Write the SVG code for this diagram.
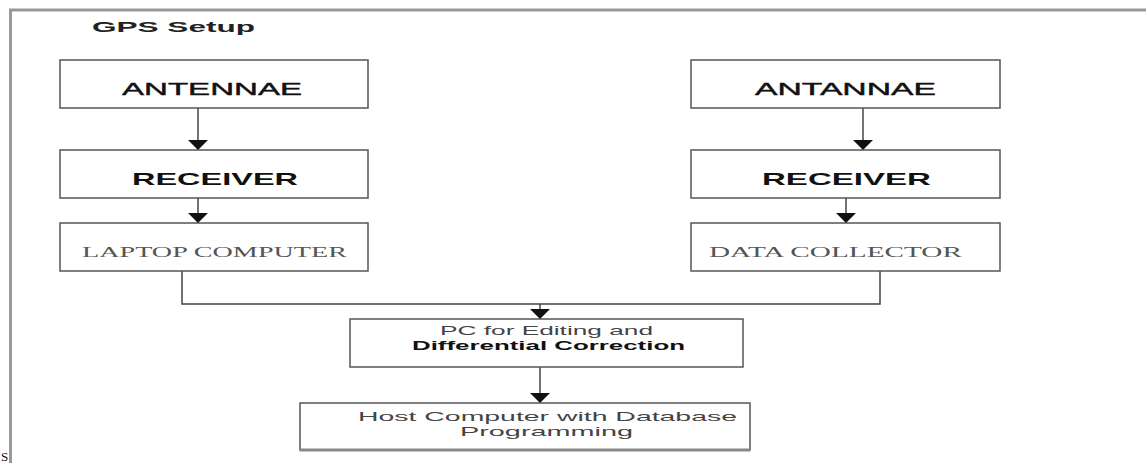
<svg xmlns="http://www.w3.org/2000/svg" width="1146" height="463" viewBox="0 0 1146 463">
<defs>
<style>
.box{fill:#fff;stroke:#555;stroke-width:1.5}
.conn{fill:none;stroke:#444;stroke-width:1.5}
.frame{stroke:#999;stroke-width:3;fill:none}
.h{font-family:"Liberation Sans",Arial,sans-serif;font-size:17px;fill:#111;stroke:#111;stroke-width:0.4}
.hb{font-family:"Liberation Sans",Arial,sans-serif;font-size:17px;font-weight:bold;fill:#111}
.serif{font-family:"Liberation Serif","Times New Roman",serif;font-size:15px;fill:#555}
.s{font-family:"Liberation Sans",Arial,sans-serif;font-size:13px;fill:#444}
.sb{font-family:"Liberation Sans",Arial,sans-serif;font-size:13px;font-weight:bold;fill:#111}
</style>
<marker id="arrd" viewBox="0 0 20 10" refX="10" refY="10" markerWidth="20" markerHeight="10" markerUnits="userSpaceOnUse" orient="0">
<path d="M0,0 L20,0 L10,10 z" fill="#111"/>
</marker>
</defs>
<rect width="1146" height="463" fill="#fff"/>
<g id="frame">
<line class="frame" x1="9" y1="10" x2="1146" y2="10"/>
<line class="frame" x1="10.5" y1="9" x2="10.5" y2="463"/>
<text x="1" y="461" font-family="Liberation Serif, serif" font-size="13" fill="#111">S</text>
</g>
<text id="title" x="92" y="32" font-family="Liberation Sans, Arial, sans-serif" font-size="15" font-weight="bold" fill="#222" textLength="163" lengthAdjust="spacingAndGlyphs">GPS Setup</text>
<g id="connectors">
<line class="conn" x1="198" y1="108" x2="198" y2="150" marker-end="url(#arrd)"/>
<line class="conn" x1="198" y1="198" x2="198" y2="223" marker-end="url(#arrd)"/>
<line class="conn" x1="863" y1="108" x2="863" y2="150" marker-end="url(#arrd)"/>
<line class="conn" x1="846" y1="198" x2="846" y2="223" marker-end="url(#arrd)"/>
<polyline class="conn" points="182,271 182,304 880,304 880,271"/>
<line class="conn" x1="540" y1="304" x2="540" y2="319" marker-end="url(#arrd)"/>
<line class="conn" x1="540" y1="367" x2="540" y2="403" marker-end="url(#arrd)"/>
</g>
<g id="antennae-left">
<rect class="box" x="60" y="60" width="308" height="48"/>
<text class="h" x="122" y="95" textLength="180" lengthAdjust="spacingAndGlyphs">ANTENNAE</text>
</g>
<g id="receiver-left">
<rect class="box" x="60" y="150" width="308" height="48"/>
<text class="hb" x="132" y="185" textLength="166" lengthAdjust="spacingAndGlyphs">RECEIVER</text>
</g>
<g id="laptop">
<rect class="box" x="60" y="223" width="308" height="48"/>
<text class="serif" x="82" y="257" textLength="265" lengthAdjust="spacingAndGlyphs">LAPTOP COMPUTER</text>
</g>
<g id="antannae-right">
<rect class="box" x="691" y="60" width="309" height="48"/>
<text class="h" x="755" y="95" textLength="181" lengthAdjust="spacingAndGlyphs">ANTANNAE</text>
</g>
<g id="receiver-right">
<rect class="box" x="691" y="150" width="309" height="48"/>
<text class="hb" x="762" y="185" textLength="169" lengthAdjust="spacingAndGlyphs">RECEIVER</text>
</g>
<g id="data-collector">
<rect class="box" x="691" y="223" width="309" height="48"/>
<text class="serif" x="709" y="257" textLength="253" lengthAdjust="spacingAndGlyphs">DATA COLLECTOR</text>
</g>
<g id="pc">
<rect class="box" x="350" y="319" width="393" height="48"/>
<text class="s" x="440" y="335" textLength="213" lengthAdjust="spacingAndGlyphs">PC for Editing and</text>
<text class="sb" x="412" y="350" textLength="273" lengthAdjust="spacingAndGlyphs">Differential Correction</text>
</g>
<g id="host">
<rect class="box" x="300" y="403" width="450" height="47"/>
<line x1="300" y1="450" x2="750" y2="450" stroke="#888" stroke-width="3"/>
<text class="s" x="358" y="421" textLength="379" lengthAdjust="spacingAndGlyphs">Host Computer with Database</text>
<text class="s" x="460" y="436" textLength="173" lengthAdjust="spacingAndGlyphs">Programming</text>
</g>
</svg>
